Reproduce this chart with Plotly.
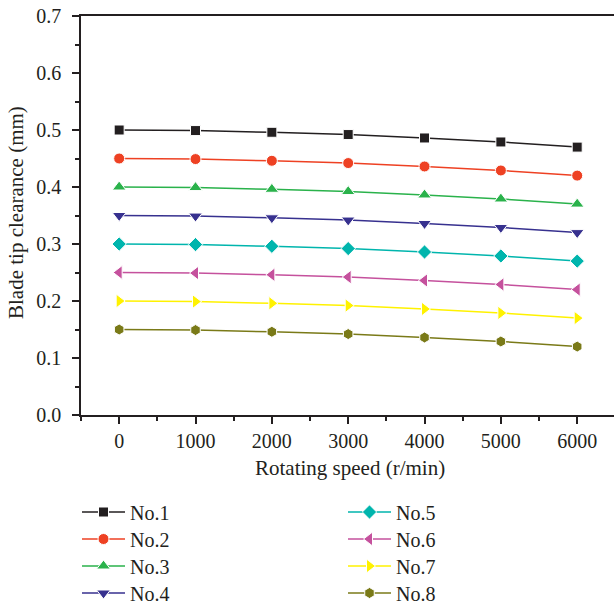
import plotly.graph_objects as go

speed = [0, 1000, 2000, 3000, 4000, 5000, 6000]
names = ["No.1", "No.2", "No.3", "No.4", "No.5", "No.6", "No.7", "No.8"]
no1 = [0.500, 0.499, 0.496, 0.492, 0.486, 0.479, 0.470]
no2 = [0.450, 0.449, 0.446, 0.442, 0.436, 0.429, 0.420]
no3 = [0.400, 0.399, 0.396, 0.392, 0.386, 0.379, 0.370]
no4 = [0.350, 0.349, 0.346, 0.342, 0.336, 0.329, 0.320]
no5 = [0.300, 0.299, 0.296, 0.292, 0.286, 0.279, 0.270]
no6 = [0.250, 0.249, 0.246, 0.242, 0.236, 0.229, 0.220]
no7 = [0.200, 0.199, 0.196, 0.192, 0.186, 0.179, 0.170]
no8 = [0.150, 0.149, 0.146, 0.142, 0.136, 0.129, 0.120]
series = [no1, no2, no3, no4, no5, no6, no7, no8]

colors = ["#231f20", "#ee4123", "#2ab24b", "#37318f", "#00b5ad", "#c5519d", "#fff200", "#7a7a18"]
symbols = ["square", "circle", "triangle-up", "triangle-down", "diamond", "triangle-left", "triangle-right", "hexagon"]
sizes = [10, 11, 12, 12, 11, 12, 12, 11]

W, H = 614, 605
ML, MR, MT, MB = 81, 0, 16, 190
PW, PH = W - ML - MR, H - MT - MB

legend_names = ["legend"] + ["legend%d" % k for k in range(2, 9)]

fig = go.Figure()
for i, (nm, ys) in enumerate(zip(names, series)):
    fig.add_trace(go.Scatter(
        x=speed, y=ys, name=nm, mode="lines+markers",
        line=dict(color=colors[i], width=1.5),
        marker=dict(symbol=symbols[i], size=sizes[i], color=colors[i],
                    line=dict(color="white", width=1)),
        legend=legend_names[i],
    ))

txt = "#231f20"
tick_font = dict(family="Liberation Serif", size=20, color=txt)
title_font = dict(family="Liberation Serif", size=21, color=txt)
leg_font = dict(family="Liberation Serif", size=20, color=txt)

axis_common = dict(
    showline=True, linecolor=txt, linewidth=1.5,
    ticks="outside", ticklen=7, tickwidth=1.5, tickcolor=txt,
    showgrid=False, zeroline=False, tickfont=tick_font, automargin=False,
)

layout_legends = {}
row_y = [512, 539, 566, 593]
col_x = [77, 343]
for i, ln in enumerate(legend_names):
    col, row = divmod(i, 4)
    layout_legends[ln] = dict(
        xref="container", yref="container",
        x=col_x[col] / W, y=1 - row_y[row] / H,
        xanchor="left", yanchor="middle", font=leg_font,
        bgcolor="rgba(0,0,0,0)", itemwidth=43,
    )

fig.update_layout(
    width=W, height=H,
    margin=dict(l=ML, r=MR, t=MT, b=MB, autoexpand=False),
    plot_bgcolor="white", paper_bgcolor="white",
    font=tick_font,
    showlegend=True,
    xaxis=dict(range=[-500, 6482], tickvals=speed, ticktext=[str(s) for s in speed],
               mirror=True, tickangle=0,
               minor=dict(tickvals=[-500, 500, 1500, 2500, 3500, 4500, 5500], ticklen=4,
                          tickwidth=1.5, tickcolor=txt, ticks="outside"),
               **axis_common),
    yaxis=dict(range=[0, 0.7], tickvals=[0, 0.1, 0.2, 0.3, 0.4, 0.5, 0.6, 0.7],
               ticktext=["0.0", "0.1", "0.2", "0.3", "0.4", "0.5", "0.6", "0.7"],
               ticklabelstandoff=7,
               minor=dict(tickvals=[0.05, 0.15, 0.25, 0.35, 0.45, 0.55, 0.65], ticklen=4,
                          tickwidth=1.5, tickcolor=txt, ticks="outside"),
               **axis_common),
    annotations=[
        dict(text="Rotating speed (r/min)", xref="paper", yref="paper",
             x=(350 - ML) / PW, y=-(468 - (MT + PH)) / PH,
             xanchor="center", yanchor="middle", showarrow=False, font=title_font),
        dict(text="Blade tip clearance (mm)", xref="paper", yref="paper",
             x=(16 - ML) / PW, y=((MT + PH) - 213) / PH, textangle=-90,
             xanchor="center", yanchor="middle", showarrow=False, font=title_font),
    ],
    **layout_legends,
)

fig.write_html("out.html")
